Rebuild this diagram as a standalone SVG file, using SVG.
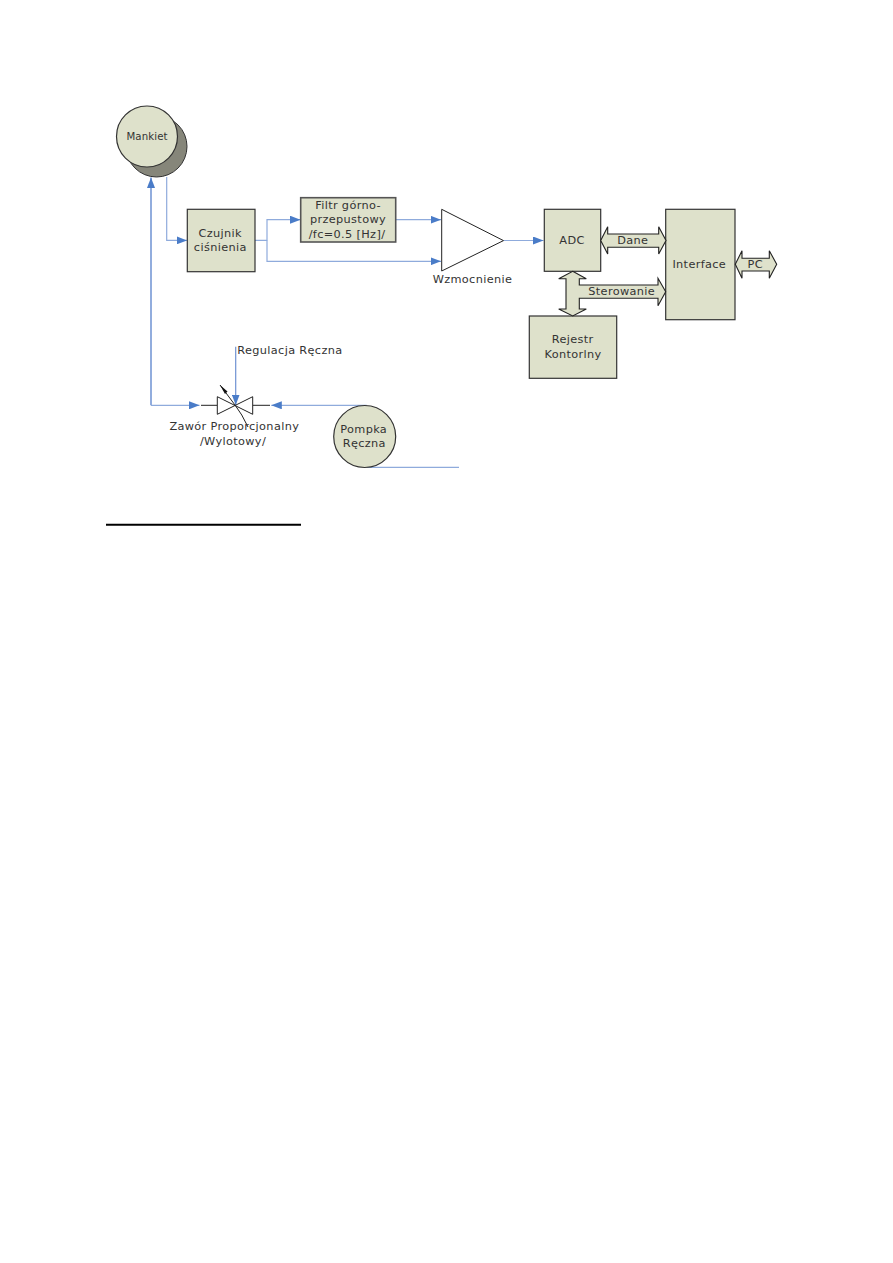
<svg xmlns="http://www.w3.org/2000/svg" width="893" height="1263" viewBox="0 0 893 1263">
<style>
.box{fill:#dee1cb;stroke:#333;stroke-width:1.2}
.shadow{fill:#86867a;stroke:#333;stroke-width:1}
.bus{fill:#dee1cb;stroke:#222;stroke-width:1.1;stroke-linejoin:miter}
.wire{fill:none;stroke:#8fabdc;stroke-width:1.2}
.wire2{fill:none;stroke:#7f9fd8;stroke-width:1.7}
.blk{fill:none;stroke:#222;stroke-width:1}
text{font-family:"DejaVu Sans",Verdana,sans-serif;font-size:11.3px;letter-spacing:.35px;fill:#333;text-anchor:middle}
</style>
<defs>
<marker id="a" markerUnits="userSpaceOnUse" markerWidth="11" markerHeight="8" refX="10.5" refY="4" orient="auto"><path d="M0 0L10.5 4L0 8z" fill="#4a7cc8"/></marker>
</defs>
<rect width="893" height="1263" fill="#fff"/>
<g id="connectors">
<path class="wire" d="M166.7 177V240.4H187" marker-end="url(#a)"/>
<path class="wire" d="M255 240.4H267V219.7H300.5" marker-end="url(#a)"/>
<path class="wire" d="M267 240.4V261.3H441" marker-end="url(#a)"/>
<path class="wire" d="M395.7 219.7H441" marker-end="url(#a)"/>
<path class="wire" d="M503.500 240.5H543.500" marker-end="url(#a)"/>
<path class="wire2" d="M151 405.3V177.500" marker-end="url(#a)"/>
<path class="wire" d="M151 405.3H199.500" marker-end="url(#a)"/>
<path class="wire" d="M366.7 405.3H271.3" marker-end="url(#a)"/>
<path class="wire" d="M366.7 467.3H459"/>
<path d="M235.7 346.7V405" fill="none" stroke="#6e92d2" stroke-width="1.2" marker-end="url(#a)"/>
</g>
<g id="mankiet"><circle class="shadow" cx="156.500" cy="146.500" r="30.500"/><circle class="box" cx="147" cy="136.500" r="30.500"/><text x="147" y="140" style="font-size:10.2px;letter-spacing:.1px">Mankiet</text></g>
<g id="czujnik"><rect class="box" x="187.3" y="209.3" width="67.7" height="62.4"/><text x="220.3" y="236.700">Czujnik</text><text x="220.3" y="251">ciśnienia</text></g>
<g id="filtr"><rect class="box" x="300.7" y="197.7" width="95" height="44.3" style="stroke-width:1.6;stroke:#555"/><text x="348" y="209.300">Filtr górno-</text><text x="348" y="223">przepustowy</text><text x="347" y="238">/fc=0.5 [Hz]/</text></g>
<g id="wzmocnienie"><path d="M441.7 209.3L503.500 240.6L441.7 271z" fill="#fff" stroke="#222" stroke-width="1"/><text x="472.500" y="282.700">Wzmocnienie</text></g>
<g id="adc"><rect class="box" x="544.3" y="209.3" width="56.4" height="62"/><text x="572" y="244">ADC</text></g>
<g id="interface"><rect class="box" x="665.7" y="209.3" width="69.3" height="110.4"/><text x="699.3" y="268">Interface</text></g>
<g id="rejestr"><rect class="box" x="529.3" y="316" width="87.4" height="62.3"/><text x="572.7" y="343.3">Rejestr</text><text x="573" y="357.7">Kontorlny</text></g>
<g id="dane"><path class="bus" d="M600.7 240.4L607.7 226.7V234H658.7V226.7L666 240.4L658.7 254V247.3H607.7V254z"/><text x="632.7" y="244">Dane</text></g>
<g id="pc"><path class="bus" d="M735.3 264.3L742 250.7V258.3H769.3V250.7L776.7 264.3L769.3 278.3V271H742V278.3z"/><text x="755.3" y="268">PC</text></g>
<g id="sterowanie"><path class="bus" d="M572.7 271.3L586.3 278.7H579.3V285H658V278.3L665.7 291.7L658 305.7V298.3H579.3V309H586.3L572.7 316L558.7 309H566V278.7H558.7z"/><text x="621.7" y="295">Sterowanie</text></g>
<g id="zawor">
<path class="blk" d="M201 405.3H217.3M252.7 405.3H270"/>
<path d="M217.3 396.7L252.7 414.3V396.7L217.3 414.3z" fill="#fff" stroke="#222" stroke-width="1"/>
<path class="blk" d="M220 385L235 405Q242 414 248 427" stroke-width=".8"/>
<path d="M220 385L227.500 391.500L225 394z" fill="#111"/>
<text x="234.300" y="430">Zawór Proporcjonalny</text><text x="233" y="445">/Wylotowy/</text>
</g>
<g id="regulacja"><text x="237.300" y="354" style="text-anchor:start">Regulacja Ręczna</text></g>
<g id="pompka"><circle class="box" cx="364.700" cy="436.500" r="31"/><text x="363.700" y="433">Pompka</text><text x="364.300" y="447">Ręczna</text></g>
<path d="M106 524.700H301" stroke="#000" stroke-width="2"/>
</svg>
